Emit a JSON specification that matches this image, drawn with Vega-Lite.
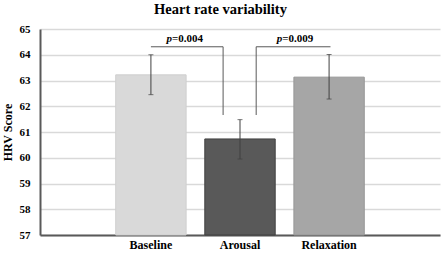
{
  "$schema": "https://vega.github.io/schema/vega-lite/v6.json",
  "width": 400,
  "height": 206,
  "autosize": "none",
  "padding": {"left": 40, "top": 29, "right": 7, "bottom": 20},
  "background": "white",
  "title": {
    "text": "Heart rate variability",
    "font": "Liberation Serif",
    "fontSize": 14.5,
    "fontWeight": "bold",
    "color": "#000000",
    "anchor": "middle",
    "frame": "bounds",
    "offset": 6
  },
  "config": {
    "view": {"stroke": null},
    "axis": {
      "labelFont": "Liberation Serif",
      "titleFont": "Liberation Serif",
      "labelFontWeight": "bold",
      "titleFontWeight": "bold",
      "labelColor": "#000000",
      "titleColor": "#000000"
    }
  },
  "resolve": {"axis": {"y": "independent"}},
  "datasets": {
    "bars": [
      {"condition": "Baseline", "mean": 63.22, "lo": 62.45, "hi": 64.0},
      {"condition": "Arousal", "mean": 60.73, "lo": 59.95, "hi": 61.48},
      {"condition": "Relaxation", "mean": 63.13, "lo": 62.28, "hi": 64.01}
    ]
  },
  "layer": [
    {
      "data": {"name": "bars"},
      "mark": {"type": "bar", "strokeWidth": 1},
      "encoding": {
        "x": {
          "field": "condition",
          "type": "nominal",
          "sort": null,
          "scale": {"domain": ["Baseline", "Arousal", "Relaxation"], "paddingInner": 0.21, "paddingOuter": 0.85},
          "axis": {
            "title": null,
            "labelAngle": 0,
            "labelFontSize": 12,
            "labelPadding": 4,
            "ticks": false,
            "domainColor": "#595959",
            "domainWidth": 2
          }
        },
        "y": {
          "field": "mean",
          "type": "quantitative",
          "scale": {"domain": [57, 65], "nice": false, "zero": false},
          "axis": {
            "title": "HRV Score",
            "titleFontSize": 12,
            "titlePadding": 5,
            "labelFontSize": 11,
            "labelPadding": 10,
            "values": [57, 58, 59, 60, 61, 62, 63, 64, 65],
            "labelOverlap": false,
            "ticks": false,
            "domainColor": "#595959",
            "domainWidth": 2,
            "gridColor": "#d9d9d9",
            "gridWidth": 1.5
          }
        },
        "y2": {"datum": 57},
        "color": {
          "field": "condition",
          "type": "nominal",
          "scale": {"domain": ["Baseline", "Arousal", "Relaxation"], "range": ["#d9d9d9", "#595959", "#a6a6a6"]},
          "legend": null
        },
        "stroke": {
          "field": "condition",
          "type": "nominal",
          "scale": {"domain": ["Baseline", "Arousal", "Relaxation"], "range": ["#cfcfcf", "#404040", "#969696"]},
          "legend": null
        }
      }
    },
    {
      "data": {"name": "bars"},
      "mark": {"type": "rule", "color": "#404040", "strokeWidth": 1},
      "encoding": {
        "x": {"field": "condition", "type": "nominal", "sort": null},
        "y": {"field": "lo", "type": "quantitative", "axis": null},
        "y2": {"field": "hi"}
      }
    },
    {
      "data": {"name": "bars"},
      "mark": {"type": "tick", "color": "#404040", "thickness": 1, "size": 5},
      "encoding": {
        "x": {"field": "condition", "type": "nominal", "sort": null},
        "y": {"field": "lo", "type": "quantitative", "axis": null}
      }
    },
    {
      "data": {"name": "bars"},
      "mark": {"type": "tick", "color": "#404040", "thickness": 1, "size": 5},
      "encoding": {
        "x": {"field": "condition", "type": "nominal", "sort": null},
        "y": {"field": "hi", "type": "quantitative", "axis": null}
      }
    },
    {
      "data": {"values": [{"from": "Baseline", "to": "Arousal", "top": 64.31, "bottom": 61.66}]},
      "mark": {"type": "rule", "color": "#595959", "strokeWidth": 1},
      "encoding": {
        "x": {"field": "from", "type": "nominal", "sort": null, "bandPosition": 0.5},
        "x2": {"field": "to", "bandPosition": 0.26},
        "y": {"field": "top", "type": "quantitative", "axis": null}
      }
    },
    {
      "data": {"values": [{"from": "Baseline", "to": "Arousal", "top": 64.31, "bottom": 61.66}]},
      "mark": {"type": "rule", "color": "#595959", "strokeWidth": 1},
      "encoding": {
        "x": {"field": "to", "type": "nominal", "sort": null, "bandPosition": 0.26},
        "y": {"field": "top", "type": "quantitative", "axis": null},
        "y2": {"field": "bottom"}
      }
    },
    {
      "data": {"values": [{"from": "Arousal", "to": "Relaxation", "top": 64.31, "bottom": 61.66}]},
      "mark": {"type": "rule", "color": "#595959", "strokeWidth": 1},
      "encoding": {
        "x": {"field": "from", "type": "nominal", "sort": null, "bandPosition": 0.73},
        "x2": {"field": "to", "bandPosition": 0.52},
        "y": {"field": "top", "type": "quantitative", "axis": null}
      }
    },
    {
      "data": {"values": [{"from": "Arousal", "to": "Relaxation", "top": 64.31, "bottom": 61.66}]},
      "mark": {"type": "rule", "color": "#595959", "strokeWidth": 1},
      "encoding": {
        "x": {"field": "from", "type": "nominal", "sort": null, "bandPosition": 0.73},
        "y": {"field": "top", "type": "quantitative", "axis": null},
        "y2": {"field": "bottom"}
      }
    },
    {
      "data": {"values": [{"at": "Baseline", "pos": 64.6, "p": "p", "val": "=0.004"}]},
      "mark": {"type": "text", "font": "Liberation Serif", "fontSize": 11, "fontWeight": "bold", "fontStyle": "italic", "align": "right", "baseline": "middle", "color": "#000000"},
      "encoding": {
        "x": {"field": "at", "type": "nominal", "sort": null, "bandPosition": 0.8},
        "y": {"field": "pos", "type": "quantitative", "axis": null},
        "text": {"field": "p"}
      }
    },
    {
      "data": {"values": [{"at": "Baseline", "pos": 64.6, "p": "p", "val": "=0.004"}]},
      "mark": {"type": "text", "font": "Liberation Serif", "fontSize": 11, "fontWeight": "bold", "align": "left", "baseline": "middle", "color": "#000000"},
      "encoding": {
        "x": {"field": "at", "type": "nominal", "sort": null, "bandPosition": 0.8},
        "y": {"field": "pos", "type": "quantitative", "axis": null},
        "text": {"field": "val"}
      }
    },
    {
      "data": {"values": [{"at": "Arousal", "pos": 64.6, "p": "p", "val": "=0.009"}]},
      "mark": {"type": "text", "font": "Liberation Serif", "fontSize": 11, "fontWeight": "bold", "fontStyle": "italic", "align": "right", "baseline": "middle", "color": "#000000"},
      "encoding": {
        "x": {"field": "at", "type": "nominal", "sort": null, "bandPosition": 1.1},
        "y": {"field": "pos", "type": "quantitative", "axis": null},
        "text": {"field": "p"}
      }
    },
    {
      "data": {"values": [{"at": "Arousal", "pos": 64.6, "p": "p", "val": "=0.009"}]},
      "mark": {"type": "text", "font": "Liberation Serif", "fontSize": 11, "fontWeight": "bold", "align": "left", "baseline": "middle", "color": "#000000"},
      "encoding": {
        "x": {"field": "at", "type": "nominal", "sort": null, "bandPosition": 1.1},
        "y": {"field": "pos", "type": "quantitative", "axis": null},
        "text": {"field": "val"}
      }
    }
  ]
}
